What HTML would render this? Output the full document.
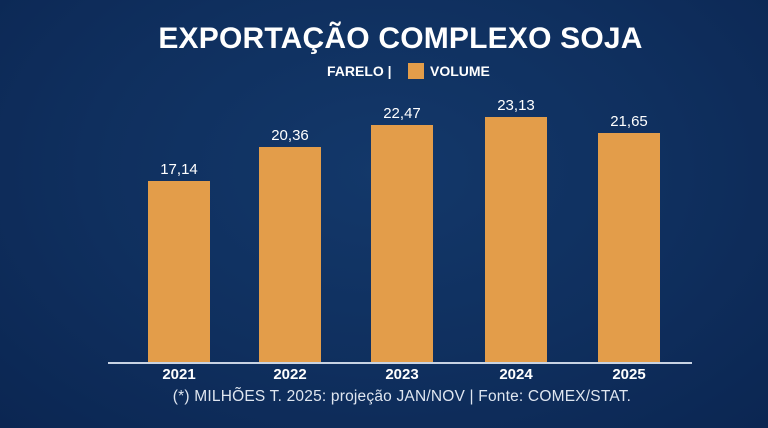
<!DOCTYPE html>
<html><head><style>
body{margin:0;width:768px;height:428px;overflow:hidden;background:radial-gradient(ellipse at 50% 40%,#13386a 0%,#0f2f5e 55%,#0b2652 100%);font-family:"Liberation Sans",sans-serif;position:relative;color:#fff}
.t{position:absolute;left:158px;width:485px;top:22px;text-align:center;font-size:30px;font-weight:bold;letter-spacing:0.2px;white-space:nowrap}
.lg{position:absolute;top:63px;left:327px;font-size:14px;font-weight:bold}
.sq{position:absolute;left:408px;top:63px;width:16px;height:16px;background:#e39d4a}
.bar{position:absolute;width:62px;background:#e39d4a;bottom:65px}
.v{position:absolute;width:80px;text-align:center;font-size:15px}
.y{position:absolute;top:366px;width:80px;text-align:center;font-size:15px;font-weight:bold}
.ax{position:absolute;left:108px;width:584px;top:362px;height:2px;background:#c8d3e3}
.f{position:absolute;top:388px;left:0;width:804px;text-align:center;font-size:15.5px;color:#dfe6f0;letter-spacing:0.2px}
</style></head><body>
<div class="t">EXPORTAÇÃO COMPLEXO SOJA</div>
<div class="lg">FARELO |</div><div class="sq"></div>
<div class="lg" style="left:430px">VOLUME</div>
<div class="bar" style="left:148px;top:181px"></div>
<div class="bar" style="left:259px;top:147px"></div>
<div class="bar" style="left:371px;top:125px"></div>
<div class="bar" style="left:485px;top:117px"></div>
<div class="bar" style="left:598px;top:133px"></div>
<div class="v" style="left:139px;top:161px">17,14</div>
<div class="v" style="left:250px;top:127px">20,36</div>
<div class="v" style="left:362px;top:105px">22,47</div>
<div class="v" style="left:476px;top:97px">23,13</div>
<div class="v" style="left:589px;top:113px">21,65</div>
<div class="ax"></div>
<div class="y" style="left:139px">2021</div>
<div class="y" style="left:250px">2022</div>
<div class="y" style="left:362px">2023</div>
<div class="y" style="left:476px">2024</div>
<div class="y" style="left:589px">2025</div>
<div class="f">(*) MILHÕES T. 2025: projeção JAN/NOV | Fonte: COMEX/STAT.</div>
</body></html>
